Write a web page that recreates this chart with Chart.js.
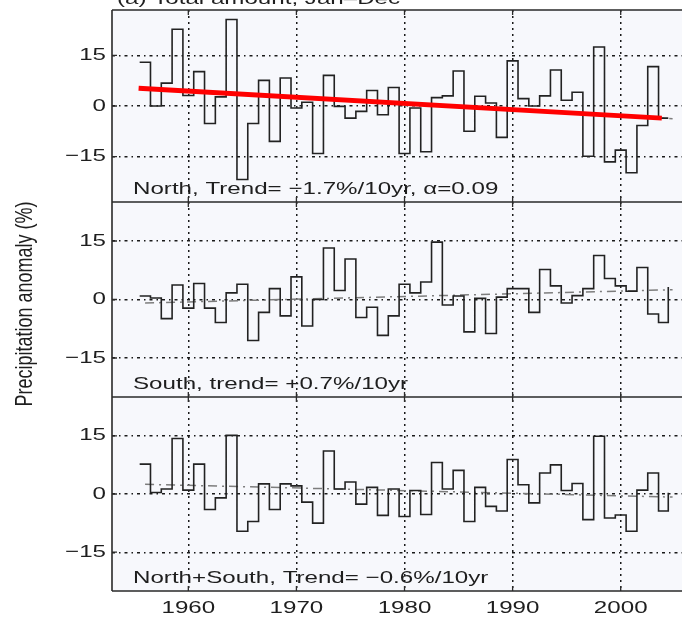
<!DOCTYPE html>
<html>
<head>
<meta charset="utf-8">
<script src="https://cdn.jsdelivr.net/npm/chart.js@4"></script>
<style>
  html, body { margin: 0; padding: 0; background: #fff; }
</style>
</head>
<body>
<canvas id="myChart" width="682" height="617"></canvas>
<script>
// years of the anomaly series (one step per year)
const years = [
  1956, 1957, 1958, 1959, 1960, 1961, 1962, 1963, 1964, 1965,
  1966, 1967, 1968, 1969, 1970, 1971, 1972, 1973, 1974, 1975,
  1976, 1977, 1978, 1979, 1980, 1981, 1982, 1983, 1984, 1985,
  1986, 1987, 1988, 1989, 1990, 1991, 1992, 1993, 1994, 1995,
  1996, 1997, 1998, 1999, 2000, 2001, 2002, 2003, 2004
];

const north = [
  13.0, 0.0, 6.8, 22.8, 3.1, 10.2, -5.2, 2.7, 25.7, -21.8,
  -5.2, 7.6, -10.5, 8.3, -0.6, 1.1, -14.1, 9.1, -0.1, -3.6,
  -1.6, 4.6, -2.6, 5.5, -14.1, -0.6, -13.6, 2.5, 3.0, 10.4,
  -7.5, 2.9, 0.9, -9.3, 13.4, 2.2, 0.0, 3.0, 10.7, 1.7,
  4.1, -14.9, 17.5, -16.6, -13.1, -19.8, -5.8, 11.7, -3.6
];

const south = [
  0.9, 0.4, -4.9, 3.7, -2.2, 4.1, -2.2, -5.9, 1.7, 3.9,
  -10.5, -3.3, 2.8, -4.2, 5.8, -6.8, 0.0, 13.2, 2.3, 10.4,
  -4.6, -2.0, -9.2, -4.2, 3.9, 1.7, 4.5, 14.7, -1.4, 0.9,
  -8.3, 0.3, -8.7, 0.6, 2.8, 2.8, -3.3, 7.7, 3.5, -0.9,
  1.0, 2.8, 11.3, 5.4, 3.5, 2.1, 8.2, -3.7, -5.9
];

const both = [
  7.7, 0.4, 1.3, 14.3, 1.0, 7.7, -4.0, -1.0, 15.1, -9.6,
  -7.1, 2.6, -4.0, 2.6, 2.1, -2.1, -7.5, 11.1, 1.3, 3.1,
  -2.6, 1.7, -5.5, 1.3, -5.8, 0.9, -5.3, 8.1, 1.3, 6.1,
  -7.1, 1.7, -3.2, -4.4, 8.9, 2.4, -2.3, 5.4, 7.5, 0.9,
  2.7, -6.6, 14.9, -6.2, -5.4, -9.6, 1.0, 5.4, -4.4
];

// value the stairs rise/fall to at the very end (north, south, both)
const lastEdge = [-3.6, 3.2, 0.3];

// linear trends: [start, end]
const trendYears = [1956, 2004.8];
const northTrend = [5.2, -3.8];
const southTrend = [-0.9, 2.5];
const bothTrend = [2.5, -0.8];
const redTrendYears = [1955.4, 2003.8];
const redTrend = [5.3, -3.6];

const decadeTicks = [1960, 1970, 1980, 1990, 2000];
const yTicks = [-15, 0, 15];

const panelLabels = [
  'North, Trend= \u22121.7%/10yr, \u03b1=0.09',
  'South, trend= +0.7%/10yr',
  'North+South, Trend= \u22120.6%/10yr'
];
const title = '(a) Total amount, Jan\u2013Dec';
const yTitle = 'Precipitation anomaly (%)';

// top to bottom
const panelIds = ['yN', 'yS', 'yC'];

const SX = 1.42; // the reference text is stretched sideways
const FONT = '"Liberation Sans", Arial, sans-serif';
const textColor = '#1e1e1e';

function stairs(vals, endVal) {
  const pts = years.map((yr, i) => ({ x: yr - 0.5, y: vals[i] }));
  pts.push({ x: years[years.length - 1] + 0.4, y: endVal });
  return pts;
}

function line(xs, ys) {
  return xs.map((x, i) => ({ x: x, y: ys[i] }));
}

function stretchedText(ctx, txt, x, y, align, size, baseline) {
  ctx.save();
  ctx.font = size + 'px ' + FONT;
  ctx.textBaseline = baseline || 'middle';
  ctx.textAlign = 'left';
  const w = ctx.measureText(txt).width * SX;
  let left = x;
  if (align === 'center') left = x - w / 2;
  if (align === 'right') left = x - w;
  ctx.translate(left, y);
  ctx.scale(SX, 1);
  ctx.fillText(txt, 0, 0);
  ctx.restore();
}

const stepStyle = {
  borderColor: '#222',
  borderWidth: 1.6,
  pointRadius: 0,
  stepped: true,
  fill: false,
  order: 1
};

const greyTrend = {
  borderColor: '#7d7d7d',
  borderWidth: 1.5,
  borderDash: [9, 5, 2, 5],
  pointRadius: 0,
  fill: false,
  order: 2
};

const datasets = [
  { ...stepStyle, label: 'North', data: stairs(north, lastEdge[0]), yAxisID: 'yN' },
  { ...stepStyle, label: 'South', data: stairs(south, lastEdge[1]), yAxisID: 'yS' },
  { ...stepStyle, label: 'North+South', data: stairs(both, lastEdge[2]), yAxisID: 'yC' },
  { ...greyTrend, label: 'North trend', data: line(trendYears, northTrend), yAxisID: 'yN' },
  { ...greyTrend, label: 'South trend', data: line(trendYears, southTrend), yAxisID: 'yS' },
  { ...greyTrend, label: 'North+South trend', data: line(trendYears, bothTrend), yAxisID: 'yC' },
  {
    label: 'North trend (red)',
    data: line(redTrendYears, redTrend),
    yAxisID: 'yN',
    borderColor: '#ff0000',
    borderWidth: 5,
    borderCapStyle: 'butt',
    pointRadius: 0,
    fill: false,
    order: 0
  }
];

function yScale(min, max, weight) {
  return {
    type: 'linear',
    position: 'left',
    stack: 'panels',
    stackWeight: weight,
    min: min,
    max: max,
    afterBuildTicks: s => { s.ticks = yTicks.map(v => ({ value: v })); },
    afterFit: s => { s.width = 0; },
    ticks: { display: false },
    grid: { color: '#1a1a1a', lineWidth: 1.4, drawTicks: false },
    border: { display: false, dash: [3, 4, 1.5, 4] }
  };
}

const panelPlugin = {
  id: 'panels',
  beforeDraw(chart) {
    const { ctx, chartArea: a } = chart;
    ctx.save();
    ctx.fillStyle = '#fff';
    ctx.fillRect(0, 0, chart.width, chart.height);
    ctx.fillStyle = '#f7f8fc';
    ctx.fillRect(a.left, a.top, a.right - a.left, a.bottom - a.top);
    ctx.restore();
  },
  afterDraw(chart) {
    const { ctx, chartArea: a, scales } = chart;
    const xs = scales.x;
    ctx.save();

    // frame and panel separators
    ctx.strokeStyle = '#2a2a2a';
    ctx.lineWidth = 1.6;
    ctx.beginPath();
    ctx.moveTo(a.left, a.top);
    ctx.lineTo(a.left, a.bottom);
    panelIds.forEach(id => {
      ctx.moveTo(a.left, scales[id].top);
      ctx.lineTo(a.right, scales[id].top);
    });
    ctx.moveTo(a.left, a.bottom);
    ctx.lineTo(a.right, a.bottom);
    ctx.stroke();

    // inward tick marks
    ctx.lineWidth = 1.3;
    ctx.beginPath();
    panelIds.forEach(id => {
      const s = scales[id];
      decadeTicks.forEach(v => {
        const px = xs.getPixelForValue(v);
        ctx.moveTo(px, s.top); ctx.lineTo(px, s.top + 5);
        ctx.moveTo(px, s.bottom); ctx.lineTo(px, s.bottom - 5);
      });
      yTicks.forEach(v => {
        const py = s.getPixelForValue(v);
        ctx.moveTo(a.left, py); ctx.lineTo(a.left + 5, py);
      });
    });
    ctx.stroke();

    ctx.fillStyle = textColor;

    // y tick labels
    panelIds.forEach(id => {
      const s = scales[id];
      yTicks.forEach(v => {
        const txt = v < 0 ? '\u2212' + Math.abs(v) : String(v);
        stretchedText(ctx, txt, a.left - 6, s.getPixelForValue(v), 'right', 17);
      });
    });

    // x tick labels
    decadeTicks.forEach(v => {
      stretchedText(ctx, String(v), xs.getPixelForValue(v), a.bottom + 17, 'center', 17);
    });

    // panel labels
    panelIds.forEach((id, i) => {
      stretchedText(ctx, panelLabels[i], a.left + 21, scales[id].bottom - 13, 'left', 17);
    });

    // title (cut off at the top like the reference)
    stretchedText(ctx, title, a.left + 5, 4, 'left', 17, 'alphabetic');

    // y axis title
    ctx.save();
    ctx.translate(26, 304);
    ctx.scale(1.3, 1);
    ctx.rotate(-Math.PI / 2);
    ctx.font = '18px ' + FONT;
    ctx.textAlign = 'center';
    ctx.textBaseline = 'middle';
    ctx.fillText(yTitle, 0, 0);
    ctx.restore();

    ctx.restore();
  }
};

const config = {
  type: 'line',
  data: { datasets: datasets },
  options: {
    responsive: false,
    animation: false,
    layout: { padding: { left: 112, top: 10, right: 0, bottom: 26 } },
    plugins: { legend: { display: false }, tooltip: { enabled: false } },
    scales: {
      x: {
        type: 'linear',
        min: 1952.94,
        max: 2005.67,
        afterBuildTicks: s => { s.ticks = decadeTicks.map(v => ({ value: v })); },
        afterFit: s => { s.height = 0; },
        ticks: { display: false },
        grid: { color: '#1a1a1a', lineWidth: 1.5, drawTicks: false },
        border: { display: false, dash: [2, 4] }
      },
      // defined bottom-first: Chart.js stacks the last one on top
      yC: yScale(-25, 25, 194),
      yS: yScale(-25, 25, 195),
      yN: yScale(-28.5, 28.5, 192)
    }
  },
  plugins: [panelPlugin]
};

const myChart = new Chart(document.getElementById('myChart'), config);
</script>
</body>
</html>
